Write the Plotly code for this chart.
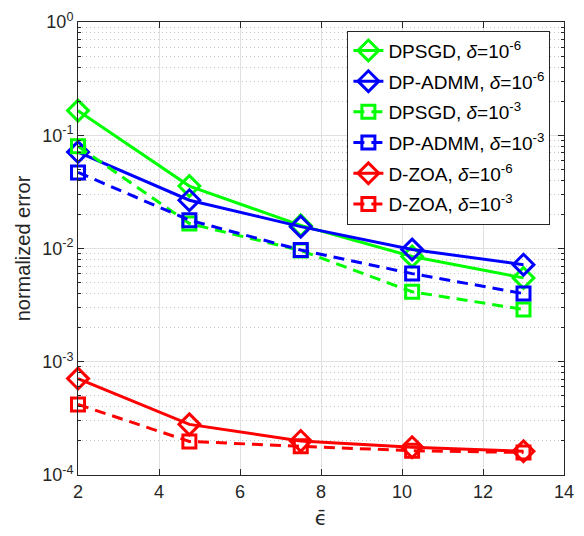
import plotly.graph_objects as go

# ---- data ----
eps_bar = [2, 4.75, 7.5, 10.25, 13]
dpsgd_d6 = [0.165, 0.0356, 0.0160, 0.0085, 0.0055]
admm_d6 = [0.071, 0.0267, 0.0156, 0.0098, 0.0072]
dpsgd_d3 = [0.080, 0.0166, 0.0096, 0.00415, 0.0029]
admm_d3 = [0.047, 0.0178, 0.0097, 0.0060, 0.0040]
dzoa_d6 = [7.1e-4, 2.8e-4, 2.0e-4, 1.76e-4, 1.62e-4]
dzoa_d3 = [4.2e-4, 1.98e-4, 1.79e-4, 1.64e-4, 1.58e-4]

names = [
    "DPSGD, <i>δ</i>=10<sup>-6</sup>",
    "DP-ADMM, <i>δ</i>=10<sup>-6</sup>",
    "DPSGD, <i>δ</i>=10<sup>-3</sup>",
    "DP-ADMM, <i>δ</i>=10<sup>-3</sup>",
    "D-ZOA, <i>δ</i>=10<sup>-6</sup>",
    "D-ZOA, <i>δ</i>=10<sup>-3</sup>",
]
series = [dpsgd_d6, admm_d6, dpsgd_d3, admm_d3, dzoa_d6, dzoa_d3]
colors = ["#00FF00", "#0000FF", "#00FF00", "#0000FF", "#FF0000", "#FF0000"]
dashes = ["solid", "solid", "11px,7px", "11px,7px", "solid", "11px,7px"]
symbols = ["diamond-open", "diamond-open", "square-open", "square-open", "diamond-open", "square-open"]
sizes = [16, 16, 13, 13, 16, 13]

x_ticks = [2, 4, 6, 8, 10, 12, 14]
y_ticks = [1e-4, 1e-3, 1e-2, 1e-1, 1]
y_ticktext = ["10<sup>-4</sup>", "10<sup>-3</sup>", "10<sup>-2</sup>", "10<sup>-1</sup>", "10<sup>0</sup>"]
y_minor = [m * 10.0 ** e for e in range(-4, 0) for m in range(2, 10)]

FONT = "Liberation Sans, Arial, Helvetica, sans-serif"
AX = "#262626"

fig = go.Figure()
for i, (nm, ys) in enumerate(zip(names, series)):
    fig.add_trace(go.Scatter(
        x=eps_bar, y=ys, name=nm, mode="lines+markers",
        legendgroup=f"g{i}", cliponaxis=False,
        line=dict(color=colors[i], width=3, dash=dashes[i]),
        marker=dict(symbol=symbols[i], size=sizes[i], color=colors[i],
                    line=dict(color=colors[i], width=3)),
    ))

fig.update_layout(
    width=584, height=536,
    margin=dict(l=78, r=10, t=14, b=58),
    paper_bgcolor="white", plot_bgcolor="white",
    font=dict(family=FONT, size=18, color=AX),
    legend=dict(
        x=0.972, y=0.981, xanchor="right", yanchor="top",
        bgcolor="white", bordercolor=AX, borderwidth=1,
        font=dict(family=FONT, size=19, color="black"),
        tracegroupgap=3, traceorder="grouped",
    ),
    showlegend=True,
)

fig.update_xaxes(
    range=[2, 14], tickvals=x_ticks, ticktext=[str(v) for v in x_ticks],
    showline=True, linecolor=AX, linewidth=1, mirror="allticks",
    ticks="inside", ticklen=6, tickcolor=AX,
    showgrid=True, gridcolor="#e0e0e0", gridwidth=1, zeroline=False,
    tickfont=dict(size=18, color=AX),
    title=dict(text="ϵ\u0304", font=dict(family="DejaVu Sans", size=20, color=AX), standoff=10),
)
fig.update_yaxes(
    type="log", range=[-4, 0], tickvals=y_ticks, ticktext=y_ticktext,
    showline=True, linecolor=AX, linewidth=1, mirror="allticks",
    ticks="inside", ticklen=6, tickcolor=AX,
    showgrid=True, gridcolor="#e0e0e0", gridwidth=1, zeroline=False,
    tickfont=dict(size=18, color=AX),
    minor=dict(tickmode="array", tickvals=y_minor, ticks="inside", ticklen=3,
               tickcolor=AX, showgrid=True, gridcolor="#c4c4c4",
               griddash="1px,3px", gridwidth=1),
    title=dict(text="normalized error", font=dict(size=20, color=AX), standoff=6),
)

fig.write_html("out.html")
